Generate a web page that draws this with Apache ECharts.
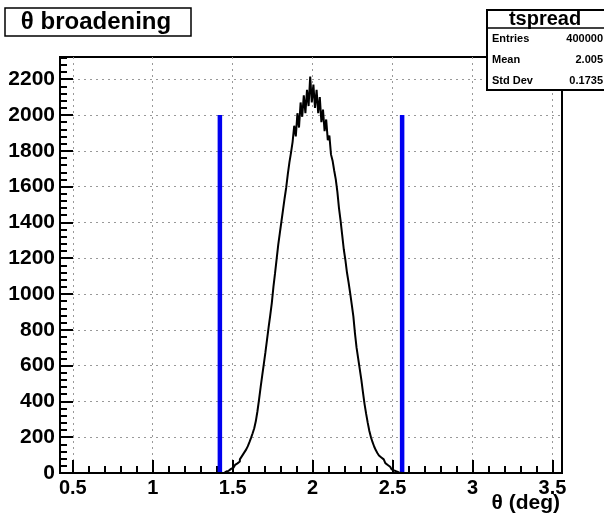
<!DOCTYPE html>
<html>
<head>
<meta charset="utf-8">
<script src="https://cdn.jsdelivr.net/npm/echarts@6/dist/echarts.min.js"></script>
<style>
  html, body { margin: 0; padding: 0; background: #fff; }
  #chart { width: 604px; height: 515px; }
</style>
</head>
<body>
<div id="chart"></div>
<script>
// histogram bins: first bin centre and width (deg)
const binStart = 1.40;
const binWidth = 0.01;
// counts per bin
const counts = [
  0, 0, 0, 0, 0,
  4, 8, 12, 17, 23,
  30, 37, 45, 54, 64,
  76, 90, 104, 118, 132,
  150, 172, 196, 222, 250,
  290, 345, 410, 480, 545,
  610, 675, 745, 815, 880,
  950, 1040, 1115, 1195, 1275,
  1340, 1405, 1470, 1535, 1595,
  1670, 1735, 1790, 1850, 1940,
  1880, 2010, 1930, 2070, 1990,
  2110, 2010, 2140, 2050, 2215,
  2070, 2170, 2040, 2140, 2010,
  2100, 1960, 2030, 1910, 1975,
  1860, 1885, 1780, 1745, 1690,
  1640, 1570, 1480, 1410, 1330,
  1250, 1190, 1120, 1065, 1005,
  940, 875, 780, 700, 640,
  580, 520, 450, 385, 330,
  280, 235, 200, 172, 148,
  128, 112, 98, 87, 76,
  65, 55, 45, 35, 27,
  20, 14, 9, 6, 3,
  1, 0, 0, 0, 0,
  0, 0, 0
];
// the two blue cut lines
const cutPositions = [1.42, 2.56];
const cutHeight = 2000;

// tick labels
const xTicks = [0.5, 1, 1.5, 2, 2.5, 3, 3.5];
const yTicks = [0, 200, 400, 600, 800, 1000, 1200, 1400, 1600, 1800, 2000, 2200];
const xMin = 0.42, xMax = 3.56;
const yMin = 0, yMax = 2324;

// stats box
const statsTitle = 'tspread';
const statsNames = ['Entries', 'Mean', 'Std Dev'];
const statsValues = ['400000', '2.005', '0.1735'];

const xMinor = [];
for (let v = 5; v <= 35; v++) xMinor.push(v / 10);
const yMinor = [];
for (let v = 0; v <= 2320; v += 40) yMinor.push(v);

const histData = counts.map((c, i) => [+(binStart + i * binWidth).toFixed(3), c]);
histData.unshift([xMin, 0]);
histData.push([xMax, 0]);

const font = 'Liberation Sans, Arial, Helvetica, sans-serif';

const chart = echarts.init(document.getElementById('chart'));

const cutSeries = cutPositions.map((x) => ({
  type: 'line',
  xAxisIndex: 0,
  yAxisIndex: 0,
  data: [[x, 0], [x, cutHeight]],
  showSymbol: false,
  silent: true,
  lineStyle: { color: '#0000f0', width: 4.5 },
  z: 3
}));

const statsGraphics = [
  {
    type: 'rect',
    shape: { x: 487, y: 10, width: 130, height: 80 },
    style: { fill: '#fff', stroke: '#000', lineWidth: 2 },
    z: 100
  },
  {
    type: 'line',
    shape: { x1: 487, y1: 28, x2: 604, y2: 28 },
    style: { stroke: '#000', lineWidth: 1.5 },
    z: 101
  },
  {
    type: 'text',
    x: 545, y: 19,
    style: { text: statsTitle, font: 'bold 20px ' + font, fill: '#000', align: 'center', verticalAlign: 'middle' },
    z: 101
  }
];
statsNames.forEach((name, i) => {
  const y = 39 + i * 21;
  statsGraphics.push({
    type: 'text', x: 492, y: y,
    style: { text: name, font: 'bold 11px ' + font, fill: '#000', align: 'left', verticalAlign: 'middle' },
    z: 101
  });
  statsGraphics.push({
    type: 'text', x: 603, y: y,
    style: { text: statsValues[i], font: 'bold 11px ' + font, fill: '#000', align: 'right', verticalAlign: 'middle' },
    z: 101
  });
});

const option = {
  animation: false,
  backgroundColor: '#fff',
  grid: {
    left: 60, right: 42, top: 57, bottom: 42,
    show: true, borderColor: '#000', borderWidth: 2, backgroundColor: 'transparent'
  },
  xAxis: [
    {
      type: 'value', min: xMin, max: xMax, position: 'bottom',
      axisLine: { show: true, onZero: false, lineStyle: { color: '#000', width: 2 } },
      axisTick: { show: true, inside: true, length: 13, customValues: xTicks, lineStyle: { color: '#000', width: 2 } },
      axisLabel: {
        customValues: xTicks, margin: 5, color: '#000',
        fontFamily: font, fontWeight: 'bold', fontSize: 20,
        formatter: (v) => String(v)
      },
      splitLine: { show: true, lineStyle: { color: '#999', type: [2, 4], width: 1 } }
    },
    {
      type: 'value', min: xMin, max: xMax, position: 'bottom',
      axisLine: { show: false },
      axisTick: { show: true, inside: true, length: 7, customValues: xMinor, lineStyle: { color: '#000', width: 2 } },
      axisLabel: { show: false },
      splitLine: { show: false }
    }
  ],
  yAxis: [
    {
      type: 'value', min: yMin, max: yMax, position: 'left',
      axisLine: { show: true, onZero: false, lineStyle: { color: '#000', width: 2 } },
      axisTick: { show: true, inside: true, length: 13, customValues: yTicks, lineStyle: { color: '#000', width: 2 } },
      axisLabel: {
        customValues: yTicks, margin: 5, color: '#000',
        fontFamily: font, fontWeight: 'bold', fontSize: 21,
        formatter: (v) => String(v)
      },
      splitLine: { show: true, lineStyle: { color: '#999', type: [2, 4], width: 1 } }
    },
    {
      type: 'value', min: yMin, max: yMax, position: 'left',
      axisLine: { show: false },
      axisTick: { show: true, inside: true, length: 7, customValues: yMinor, lineStyle: { color: '#000', width: 2 } },
      axisLabel: { show: false },
      splitLine: { show: false }
    }
  ],
  series: [
    {
      type: 'line',
      xAxisIndex: 0,
      yAxisIndex: 0,
      data: histData,
      step: 'middle',
      showSymbol: false,
      silent: true,
      lineStyle: { color: '#000', width: 2 },
      z: 4
    }
  ].concat(cutSeries),
  graphic: [
    {
      type: 'rect',
      shape: { x: 5, y: 8, width: 186, height: 28 },
      style: { fill: '#fff', stroke: '#000', lineWidth: 1.5 },
      z: 100
    },
    {
      type: 'text',
      x: 96, y: 22,
      style: { text: 'θ broadening', font: 'bold 24px ' + font, fill: '#000', align: 'center', verticalAlign: 'middle' },
      z: 101
    },
    {
      type: 'text',
      x: 560, y: 503,
      style: { text: 'θ (deg)', font: 'bold 21px ' + font, fill: '#000', align: 'right', verticalAlign: 'middle' },
      z: 101
    }
  ].concat(statsGraphics)
};

chart.setOption(option);
</script>
</body>
</html>
